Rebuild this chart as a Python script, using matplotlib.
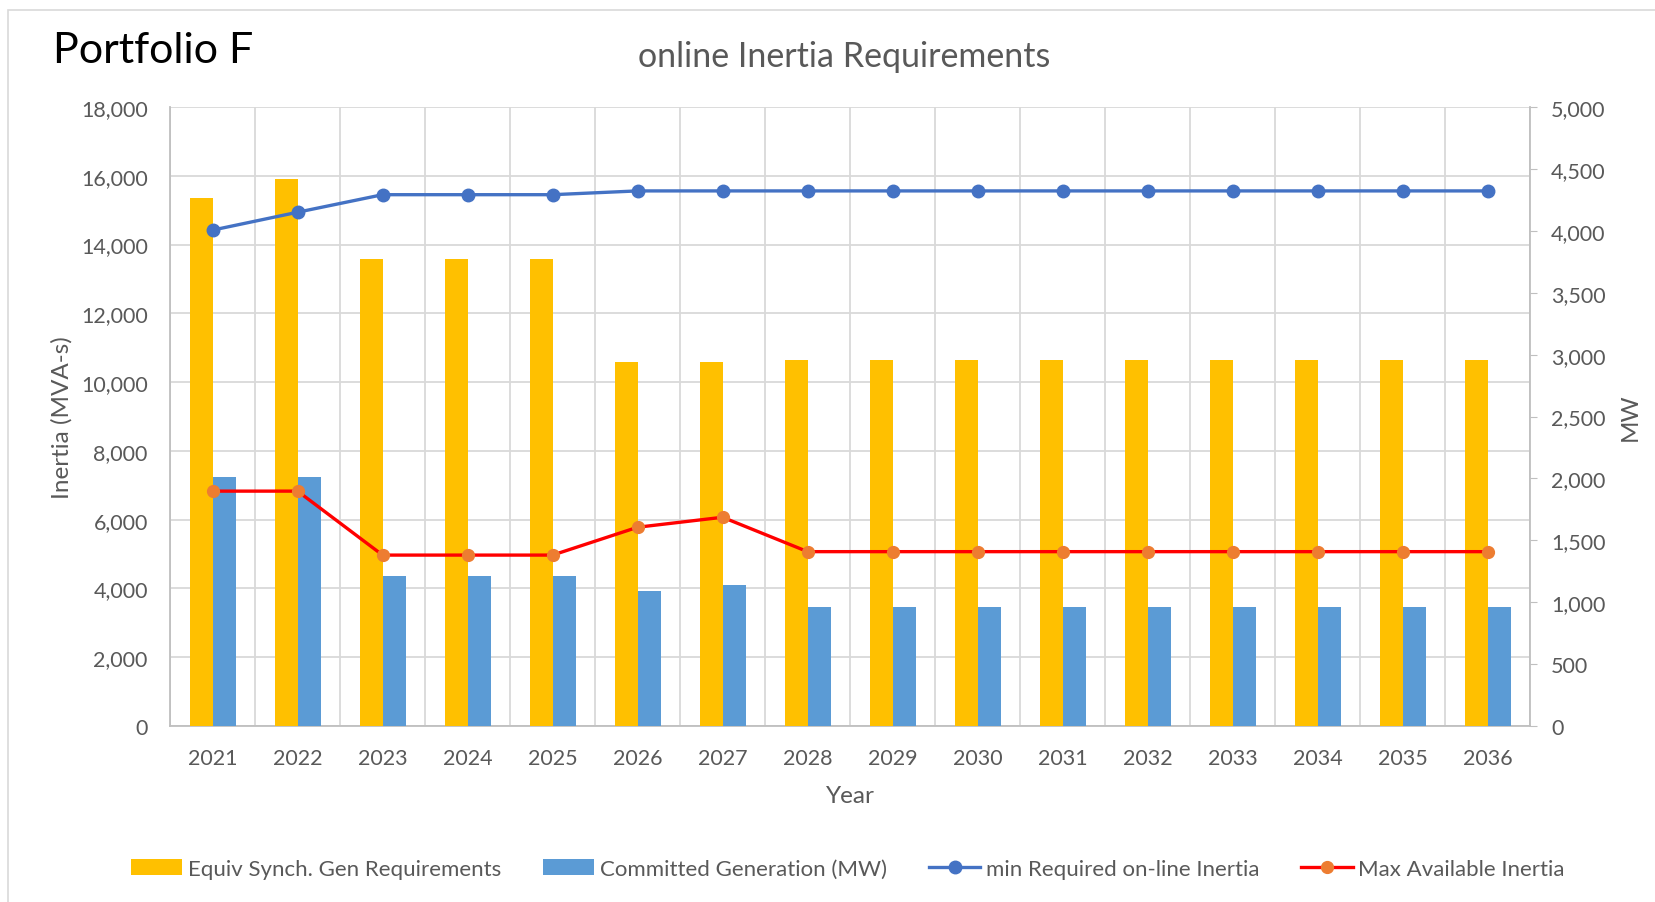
import numpy as np
import matplotlib.pyplot as plt
from matplotlib.patches import Patch, Rectangle
from matplotlib.lines import Line2D
from matplotlib.ticker import FuncFormatter

plt.rcParams['font.family'] = ['Lato', 'DejaVu Sans']

years = [str(y) for y in range(2021, 2037)]

# MW (right axis)
equiv_synch_gen = [4265, 4420, 3772, 3772, 3772, 2940, 2940, 2957,
                   2957, 2957, 2957, 2957, 2957, 2957, 2957, 2957]
committed_gen = [2014, 2014, 1209, 1209, 1209, 1090, 1141, 961,
                 961, 961, 961, 961, 961, 961, 961, 961]

# MVA-s (left axis)
min_required = [14420, 14940, 15450, 15450, 15450, 15560, 15560, 15560,
                15560, 15560, 15560, 15560, 15560, 15560, 15560, 15560]
max_available = [6830, 6830, 4970, 4970, 4970, 5780, 6070, 5070,
                 5070, 5070, 5070, 5070, 5070, 5070, 5070, 5070]

grey = '#595959'
yellow = '#FFC000'
bar_blue = '#5B9BD5'
line_blue = '#4472C4'
red = '#FF0000'
orange = '#ED7D31'

fig = plt.figure(figsize=(16.56, 9.03), dpi=100)
fig.patches.append(Rectangle((0.005, -0.1), 1.2, 1.088, transform=fig.transFigure,
                             fill=False, edgecolor='#d9d9d9', linewidth=1.2))

ax = fig.add_axes([0.1027, 0.1949, 0.8213, 0.6855])
ax2 = ax.twinx()
ax3 = ax.twinx()

x = np.arange(len(years))
w = 0.27

ax.set_xlim(-0.5, len(years) - 0.5)
ax.set_ylim(0, 18000)
ax.set_yticks(np.arange(0, 18001, 2000))
ax.set_xticks(np.arange(-0.5, len(years), 1.0), minor=True)
ax.set_xticks(x)
ax.set_xticklabels(years)
ax.grid(axis='y', which='major', color='#d9d9d9', linewidth=1.3)
ax.grid(axis='x', which='minor', color='#d9d9d9', linewidth=1.3)
ax.set_axisbelow(True)
fmt = FuncFormatter(lambda v, p: f'{int(v):,}')
ax.yaxis.set_major_formatter(fmt)
ax.tick_params(axis='both', which='both', length=0, labelsize=15.5, labelcolor=grey)
ax.tick_params(axis='y', pad=16)
ax.tick_params(axis='x', pad=16)
for s in ['top', 'right']:
    ax.spines[s].set_visible(False)
for s in ['left', 'bottom']:
    ax.spines[s].set_color('#bfbfbf')
    ax.spines[s].set_linewidth(1.3)
ax.set_ylabel('Inertia (MVA-s)', fontsize=17.5, color=grey, labelpad=6)
ax.set_xlabel('Year', fontsize=17.5, color=grey, labelpad=12)

# bars on the MW axis
ax2.bar(x - w / 2, equiv_synch_gen, width=w, color=yellow, zorder=2)
ax2.bar(x + w / 2, committed_gen, width=w, color=bar_blue, zorder=2)
ax2.set_ylim(0, 5000)
ax2.set_yticks(np.arange(0, 5001, 500))
ax2.yaxis.set_major_formatter(fmt)
ax2.tick_params(axis='y', length=5, color='#bfbfbf', labelsize=15.5, labelcolor=grey, pad=10)
for s in ['top', 'left', 'bottom']:
    ax2.spines[s].set_visible(False)
ax2.spines['right'].set_color('#bfbfbf')
ax2.spines['right'].set_linewidth(1.3)
ax2.set_ylabel('MW', fontsize=17.5, color=grey, labelpad=10)

# inertia lines drawn above the bars
ax3.set_ylim(0, 18000)
ax3.axis('off')
ax3.plot(x, min_required, color=line_blue, linewidth=2.4, marker='o',
         markersize=9, markerfacecolor=line_blue, markeredgecolor=line_blue)
ax3.plot(x, max_available, color=red, linewidth=2.4, marker='o',
         markersize=8.5, markerfacecolor=orange, markeredgecolor=orange)

fig.text(0.032, 0.944, 'Portfolio F', fontsize=31, color='black', va='center', ha='left')
fig.text(0.51, 0.937, 'online Inertia Requirements', fontsize=24.5, color=grey,
         va='center', ha='center')

handles = [
    Patch(facecolor=yellow, label='Equiv Synch. Gen Requirements'),
    Patch(facecolor=bar_blue, label='Committed Generation (MW)'),
    Line2D([], [], color=line_blue, linewidth=2.4, marker='o', markersize=9,
           label='min Required on-line Inertia'),
    Line2D([], [], color=red, linewidth=2.4, marker='o', markersize=8.5,
           markerfacecolor=orange, markeredgecolor=orange, label='Max Available Inertia'),
]
leg = fig.legend(handles=handles, loc='center', bbox_to_anchor=(0.512, 0.037), ncol=4,
                 frameon=False, fontsize=16, handlelength=2.3, handleheight=0.7,
                 handletextpad=0.25, columnspacing=1.9)
for t in leg.get_texts():
    t.set_color(grey)

fig.savefig('out.png', dpi=100)
